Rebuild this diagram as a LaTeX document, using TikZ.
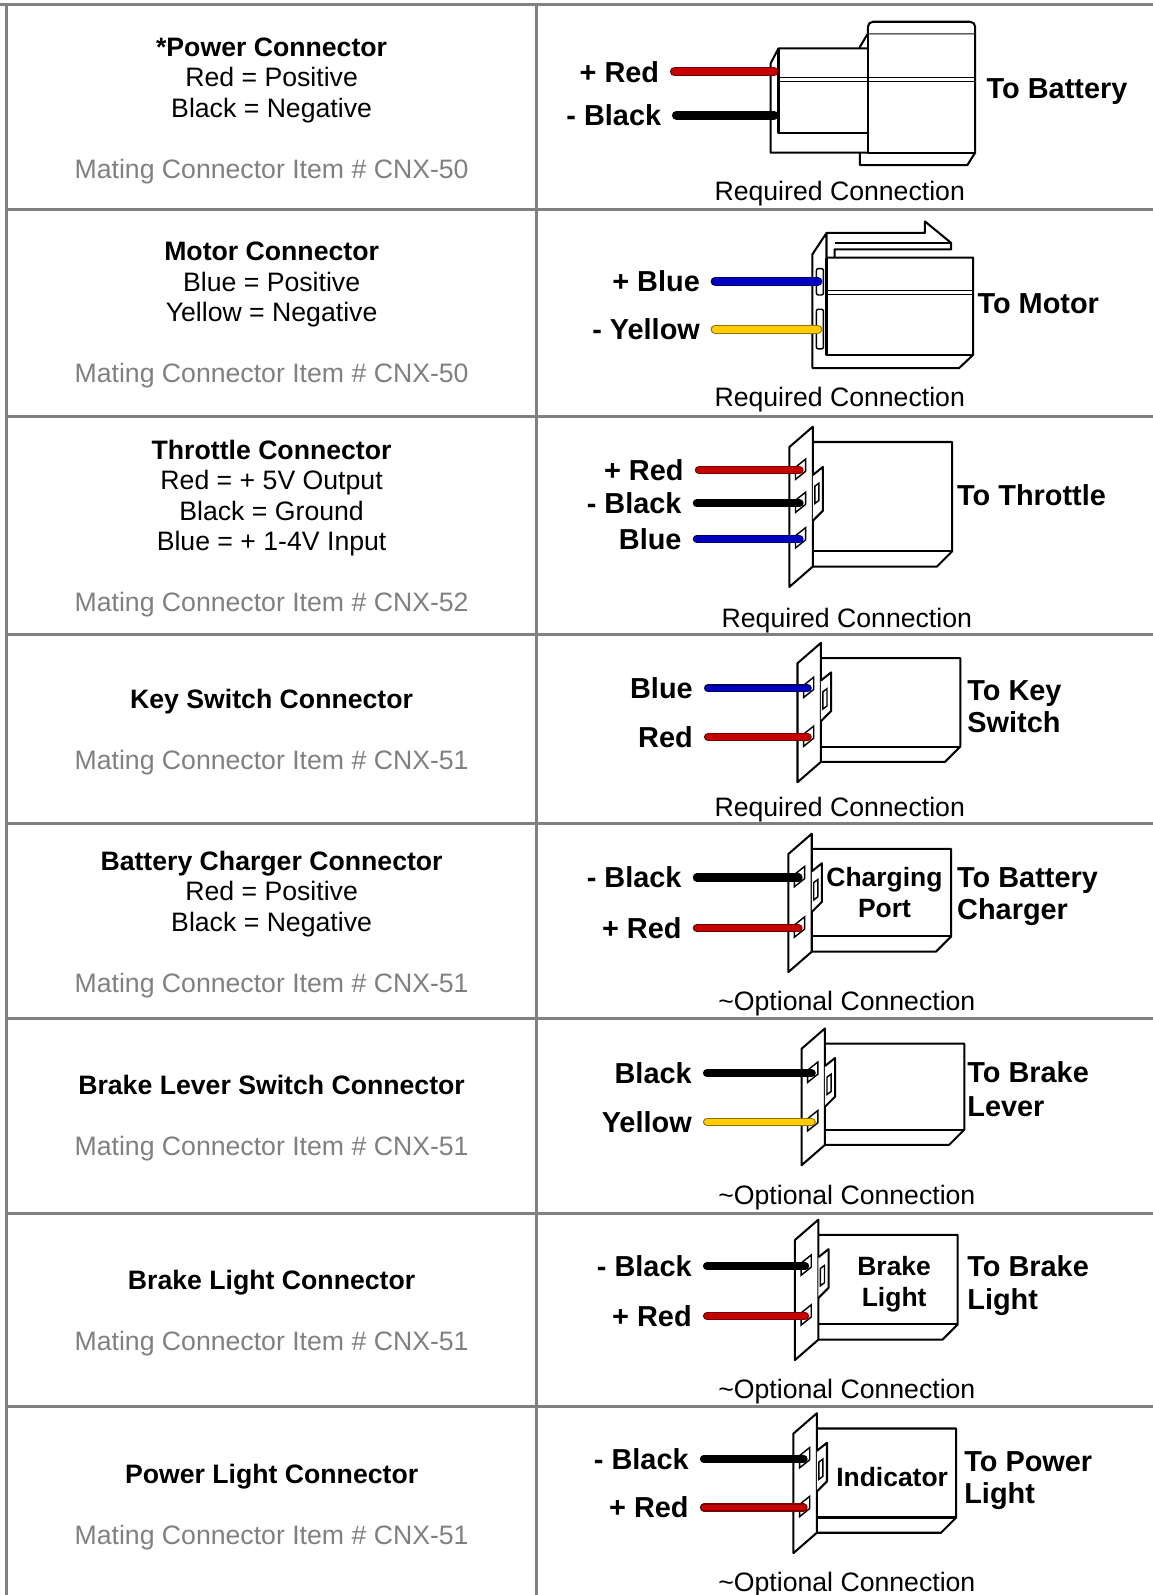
\documentclass[tikz,border=0pt]{standalone}
\usepackage{fontspec}
\setmainfont{Liberation Sans}
\usepackage{xcolor}
\usepackage{tikz}
\usetikzlibrary{positioning}

\definecolor{rulegray}{HTML}{808080}
\definecolor{redfill}{HTML}{C40000}
\definecolor{redline}{HTML}{7A0000}
\definecolor{bluefill}{HTML}{0000C0}
\definecolor{blueline}{HTML}{000066}
\definecolor{yellowfill}{HTML}{FFCC00}
\definecolor{yellowline}{HTML}{947200}

\tikzstyle{tableline} = [draw=rulegray, line width=1.5pt]
\tikzstyle{info} = [font=\fontsize{13.1pt}{15pt}\selectfont, text height=9.4pt, text depth=0pt, inner sep=0pt, outer sep=0pt]
\tikzstyle{rowtitle} = [info, font=\fontsize{13.1pt}{15pt}\selectfont\bfseries]
\tikzstyle{item} = [info, text=rulegray]
\tikzstyle{lead} = [font=\fontsize{14.2pt}{16pt}\selectfont\bfseries, text height=10.2pt, text depth=0pt, inner sep=0pt, outer sep=0pt, outer xsep=7.5pt, anchor=east]
\tikzstyle{dest} = [font=\fontsize{14.2pt}{16pt}\selectfont\bfseries, text height=10.2pt, text depth=0pt, inner sep=0pt, outer sep=0pt, anchor=west]
\tikzstyle{boxtext} = [font=\fontsize{13pt}{15pt}\selectfont\bfseries, text height=9.3pt, text depth=0pt, inner sep=0pt, outer sep=0pt]
\tikzstyle{part} = [draw=black, line width=1pt, fill=white, line join=round]
\tikzstyle{slot} = [draw=black, line width=0.7pt, fill=white]
\tikzstyle{groove} = [draw=black, line width=0.6pt]
\tikzstyle{wire} = [line width=0.6pt, double distance=2.8pt, line cap=round]
\tikzstyle{fat} = [double distance=3.3pt]
\tikzstyle{redwire} = [wire, draw=redline, double=redfill]
\tikzstyle{blackwire} = [wire, draw=black, double=black]
\tikzstyle{bluewire} = [wire, draw=blueline, double=bluefill]
\tikzstyle{yellowwire} = [wire, draw=yellowline, double=yellowfill]

% plate x, plate top, plate height, tab top, tab length
\newcommand{\flange}[5]{%
  \draw[part] (#1+23,#2+15) -- (#1+160,#2+15) -- (#1+160,#2+#3-15) -- (#1+145,#2+#3) -- (#1+23,#2+#3);
  \draw[part] (#1+23,#2+#3-15) -- (#1+160,#2+#3-15);
  \draw[part] (#1,#2+20) -- (#1+23,#2) -- (#1+23,#2+#3) -- (#1,#2+#3+20) -- cycle;
  \draw[part] (#1+23,#2+#4+8) -- (#1+33,#2+#4) -- (#1+33,#2+#4+#5) -- (#1+23,#2+#4+#5+10);
  \draw[slot] (#1+25,#2+#4+19) -- (#1+29,#2+#4+16) -- (#1+29,#2+#4+33) -- (#1+25,#2+#4+36) -- cycle;
}

\begin{document}
\begin{tikzpicture}[x=0.5pt, y=-0.5pt]
    \useasboundingbox (0,0) rectangle (1133,1568);

    % table
    \draw[tableline] (0,4) -- (1133,4);
    \draw[tableline] (6,4) -- (6,1568);
    \draw[tableline] (527,4) -- (527,1568);
    \foreach \y in {205.5,409,624,810,1001,1192.5,1382.5}
        \draw[tableline] (6,\y) -- (1133,\y);

    % left column
    \node(pwr)[rowtitle] at (267,46) {*Power Connector};
    \node(pwr1)[info, below=5.6pt of pwr] {Red = Positive};
    \node(pwr2)[info, below=5.6pt of pwr1] {Black = Negative};
    \node(pwritem)[item, below=20.6pt of pwr2] {Mating Connector Item \# CNX-50};

    \node(mot)[rowtitle] at (267,247) {Motor Connector};
    \node(mot1)[info, below=5.6pt of mot] {Blue = Positive};
    \node(mot2)[info, below=5.6pt of mot1] {Yellow = Negative};
    \node(motitem)[item, below=20.6pt of mot2] {Mating Connector Item \# CNX-50};

    \node(thr)[rowtitle] at (267,442) {Throttle Connector};
    \node(thr1)[info, below=5.6pt of thr] {Red = + 5V Output};
    \node(thr2)[info, below=5.6pt of thr1] {Black = Ground};
    \node(thr3)[info, below=5.6pt of thr2] {Blue = + 1-4V Input};
    \node(thritem)[item, below=20.6pt of thr3] {Mating Connector Item \# CNX-52};

    \node(key)[rowtitle] at (267,687) {Key Switch Connector};
    \node(keyitem)[item, below=20.6pt of key] {Mating Connector Item \# CNX-51};

    \node(chg)[rowtitle] at (267,846) {Battery Charger Connector};
    \node(chg1)[info, below=5.6pt of chg] {Red = Positive};
    \node(chg2)[info, below=5.6pt of chg1] {Black = Negative};
    \node(chgitem)[item, below=20.6pt of chg2] {Mating Connector Item \# CNX-51};

    \node(lev)[rowtitle] at (267,1067) {Brake Lever Switch Connector};
    \node(levitem)[item, below=20.6pt of lev] {Mating Connector Item \# CNX-51};

    \node(brk)[rowtitle] at (267,1258) {Brake Light Connector};
    \node(brkitem)[item, below=20.6pt of brk] {Mating Connector Item \# CNX-51};

    \node(ind)[rowtitle] at (267,1449) {Power Light Connector};
    \node(inditem)[item, below=20.6pt of ind] {Mating Connector Item \# CNX-51};

    % power connector
    \draw[part] (845.4,46) -- (853.2,32.9) -- (958.7,32.9) -- (958.7,150) -- (950.9,162.4) -- (845.4,162.4) -- cycle;
    \draw[part] (853.2,47.6) -- (765.3,47.6) -- (757.5,62.4) -- (757.5,150) -- (853.2,150);
    \draw[part] (765.3,47.6) -- (765.3,131.2) -- (853.2,131.2);
    \draw[part] (853.2,32.9) -- (853.2,150) -- (958.7,150);
    \draw[part, rounded corners=2.5pt] (853.2,32.9) -- (853.2,21.4) -- (958.7,21.4) -- (958.7,32.9);
    \draw[groove] (765.3,76.1) -- (958.7,76.1) (765.3,80.4) -- (958.7,80.4);
    \node(pwrred)[lead] at (663,70.6) {+ Red};
    \node(pwrblack)[lead] at (665,113.2) {- Black};
    \coordinate (pwrredend) at (761,70.6);
    \coordinate (pwrblackend) at (761,113.2);
    \draw[redwire, fat] (pwrred) -- (pwrredend);
    \draw[blackwire, fat] (pwrblack) -- (pwrblackend);
    \node(pwrto)[dest] at (970,87) {To Battery};
    \node(pwrnote)[info] at (825.5,188) {Required Connection};

    % motor connector
    \draw[part] (812.5,229) -- (812.5,253.3) -- (956.7,253.3) -- (956.7,348.8) -- (942.9,361.8) -- (798.6,361.8) -- (798.6,250.1) -- cycle;
    \draw[part] (812.5,253.3) -- (812.5,348.8) -- (956.7,348.8);
    \draw[part, fill=none] (812.5,229) -- (909.3,229) -- (909.3,217.7) -- (935,238.8) -- (935,245.2) -- (820.4,245.2) -- (820.4,253.3);
    \draw[groove] (820.4,238.8) -- (935,238.8);
    \draw[groove] (812.5,285.7) -- (956.7,285.7) (812.5,289.6) -- (956.7,289.6);
    \draw[slot, rounded corners=1pt] (802.5,264) rectangle (809.5,290) (802.5,304) rectangle (809.5,343);
    \node(motblue)[lead] at (703,276.6) {+ Blue};
    \node(motyellow)[lead] at (703,323.6) {- Yellow};
    \coordinate (motblueend) at (804,276.6);
    \coordinate (motyellowend) at (804,323.6);
    \draw[bluewire, fat] (motblue) -- (motblueend);
    \draw[yellowwire, fat] (motyellow) -- (motyellowend);
    \node(motto)[dest] at (961,298) {To Motor};
    \node(motnote)[info] at (825.5,390) {Required Connection};

    % throttle connector
    \flange{776}{419.5}{137.5}{39.5}{43}
    \foreach \w in {462.3,494.8,529.7}
        \draw[slot] (782,\w-3) -- (792,\w-11) -- (792,\w+1) -- (782,\w+9) -- cycle;
    \node(thrred)[lead] at (687,462.3) {+ Red};
    \node(thrblack)[lead] at (685,494.8) {- Black};
    \node(thrblue)[lead] at (685,529.7) {Blue};
    \coordinate (thrredend) at (786,462.3);
    \coordinate (thrblackend) at (786,494.8);
    \coordinate (thrblueend) at (786,529.7);
    \draw[redwire] (thrred) -- (thrredend);
    \draw[blackwire] (thrblack) -- (thrblackend);
    \draw[bluewire] (thrblue) -- (thrblueend);
    \node(thrto)[dest] at (941,487) {To Throttle};
    \node(thrnote)[info] at (832.5,607) {Required Connection};

    % key switch connector
    \flange{784}{632}{117}{29}{38}
    \foreach \w in {676.7,724.7}
        \draw[slot] (790,\w-3) -- (800,\w-11) -- (800,\w+1) -- (790,\w+9) -- cycle;
    \node(keyblue)[lead] at (696,676.7) {Blue};
    \node(keyred)[lead] at (696,724.7) {Red};
    \coordinate (keyblueend) at (794,676.7);
    \coordinate (keyredend) at (794,724.7);
    \draw[bluewire] (keyblue) -- (keyblueend);
    \draw[redwire] (keyred) -- (keyredend);
    \node(keyto)[dest] at (951,678) {To Key};
    \node(keyto2)[dest, below=5.8pt of keyto.south west, anchor=north west] {Switch};
    \node(keynote)[info] at (825.5,793) {Required Connection};

    % charger connector
    \flange{775}{819.6}{116}{29}{38}
    \foreach \w in {862.7,912.3}
        \draw[slot] (781,\w-3) -- (791,\w-11) -- (791,\w+1) -- (781,\w+9) -- cycle;
    \node(chgblack)[lead] at (685,862.7) {- Black};
    \node(chgred)[lead] at (685,912.3) {+ Red};
    \coordinate (chgblackend) at (785,862.7);
    \coordinate (chgredend) at (785,912.3);
    \draw[blackwire] (chgblack) -- (chgblackend);
    \draw[redwire] (chgred) -- (chgredend);
    \node(chgport)[boxtext] at (869.5,862) {Charging};
    \node(chgport2)[boxtext, below=5.9pt of chgport] {Port};
    \node(chgto)[dest] at (941,862) {To Battery};
    \node(chgto2)[dest, below=5.8pt of chgto.south west, anchor=north west] {Charger};
    \node(chgnote)[info] at (832.5,984) {\textasciitilde Optional Connection};

    % brake lever connector
    \flange{788}{1011}{114.5}{29}{38}
    \foreach \w in {1055,1102.7}
        \draw[slot] (794,\w-3) -- (804,\w-11) -- (804,\w+1) -- (794,\w+9) -- cycle;
    \node(levblack)[lead] at (695,1055) {Black};
    \node(levyellow)[lead] at (695,1102.7) {Yellow};
    \coordinate (levblackend) at (798,1055);
    \coordinate (levyellowend) at (798,1102.7);
    \draw[blackwire] (levblack) -- (levblackend);
    \draw[yellowwire] (levyellow) -- (levyellowend);
    \node(levto)[dest] at (951,1054) {To Brake};
    \node(levto2)[dest, below=6.3pt of levto.south west, anchor=north west] {Lever};
    \node(levnote)[info] at (832.5,1175) {\textasciitilde Optional Connection};

    % brake light connector
    \flange{781.5}{1199}{118}{29}{38}
    \foreach \w in {1244.7,1293.7}
        \draw[slot] (787.5,\w-3) -- (797.5,\w-11) -- (797.5,\w+1) -- (787.5,\w+9) -- cycle;
    \node(brkblack)[lead] at (695,1244.7) {- Black};
    \node(brkred)[lead] at (695,1293.7) {+ Red};
    \coordinate (brkblackend) at (791.5,1244.7);
    \coordinate (brkredend) at (791.5,1293.7);
    \draw[blackwire] (brkblack) -- (brkblackend);
    \draw[redwire] (brkred) -- (brkredend);
    \node(brklamp)[boxtext] at (879,1245) {Brake};
    \node(brklamp2)[boxtext, below=5.7pt of brklamp] {Light};
    \node(brkto)[dest] at (951,1245) {To Brake};
    \node(brkto2)[dest, below=5.8pt of brkto.south west, anchor=north west] {Light};
    \node(brknote)[info] at (832.5,1365) {\textasciitilde Optional Connection};

    % power light connector
    \flange{780}{1389.3}{117.5}{29}{38}
    \foreach \w in {1434,1482}
        \draw[slot] (786,\w-3) -- (796,\w-11) -- (796,\w+1) -- (786,\w+9) -- cycle;
    \node(indblack)[lead] at (692,1434) {- Black};
    \node(indred)[lead] at (692,1482) {+ Red};
    \coordinate (indblackend) at (790,1434);
    \coordinate (indredend) at (790,1482);
    \draw[blackwire] (indblack) -- (indblackend);
    \draw[redwire] (indred) -- (indredend);
    \node(indlamp)[boxtext] at (877,1452) {Indicator};
    \node(indto)[dest] at (948,1436) {To Power};
    \node(indto2)[dest, below=5.8pt of indto.south west, anchor=north west] {Light};
    \node(indnote)[info] at (832.5,1555) {\textasciitilde Optional Connection};
\end{tikzpicture}
\end{document}
